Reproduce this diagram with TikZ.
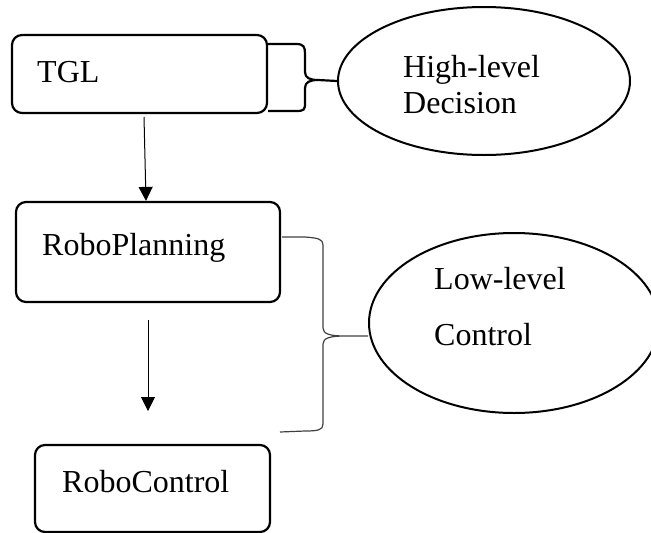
\documentclass[tikz,border=0pt]{standalone}
\usepackage{fontspec}
\setmainfont{Liberation Serif}
\usetikzlibrary{shapes.geometric,arrows.meta}
\begin{document}
\begin{tikzpicture}[x=1pt,y=-1pt,
  box/.style={draw,line width=2.2pt,rounded corners=10pt,inner sep=0pt},
  oval/.style={draw,ellipse,line width=2pt,inner sep=0pt},
  lbl/.style={anchor=base west,inner sep=0pt,font=\fontsize{32}{38}\selectfont},
  flow/.style={line width=1pt,-{Triangle[width=14pt,length=14pt]}},
  bracethick/.style={line width=2.2pt},
  bracethin/.style={line width=1.2pt,draw=black!75}]
\useasboundingbox (0,0) rectangle (651,533);
% boxes
\node[box,minimum width=255pt,minimum height=78pt] (tgl) at (139.5,74) {};
\node[box,minimum width=264pt,minimum height=100pt] (plan) at (148,252) {};
\node[box,minimum width=235pt,minimum height=87pt] (ctrl) at (152.5,488.5) {};
\node[lbl] (tgltxt) at (37,82) {TGL};
\node[lbl] (plantxt) at (42,255) {RoboPlanning};
\node[lbl] (ctrltxt) at (62,492) {RoboControl};
% ellipses
\node[oval,minimum width=292pt,minimum height=148pt] (high) at (484,81) {};
\node[oval,minimum width=290pt,minimum height=180pt] (low) at (514,323) {};
\node[lbl] (hightxt1) at (403,77) {High-level};
\node[lbl] (hightxt2) at (403,113) {Decision};
\node[lbl] (lowtxt1) at (434,289) {Low-level};
\node[lbl] (lowtxt2) at (434,345) {Control};
% arrows
\coordinate (a1s) at (144,117);
\coordinate (a2s) at (148,320);
\coordinate (a2e) at (148,411);
\draw[flow] (a1s) -- (146,0 |- plan.north);
\draw[flow] (a2s) -- (a2e);
% brace 1 (thick)
\coordinate (b1t) at (268,44);
\coordinate (b1b) at (268,111);
\draw[bracethick] (b1t) -- (296,44) .. controls (304,44) and (305,47) .. (305,54)
  -- (305,72) .. controls (305,78) and (310,80) .. (318,80) -- (high.west)
  (318,80) .. controls (310,80) and (305,82) .. (305,88)
  -- (305,103) .. controls (305,110) and (304,111) .. (296,111) -- (b1b);
% brace 2 (thin)
\coordinate (b2t) at (282,237);
\coordinate (b2b) at (280,432);
\coordinate (b2tip) at (345,336);
\draw[bracethin] (b2t) -- (305,237) .. controls (318,238) and (323,239) .. (323,245)
  -- (323,328) .. controls (323,334) and (330,336) .. (b2tip) -- (low.west |- b2tip)
  (b2tip) .. controls (330,336) and (323,338) .. (323,344)
  -- (323,424) .. controls (323,430) and (318,431) .. (305,431) -- (b2b);
\end{tikzpicture}
\end{document}
